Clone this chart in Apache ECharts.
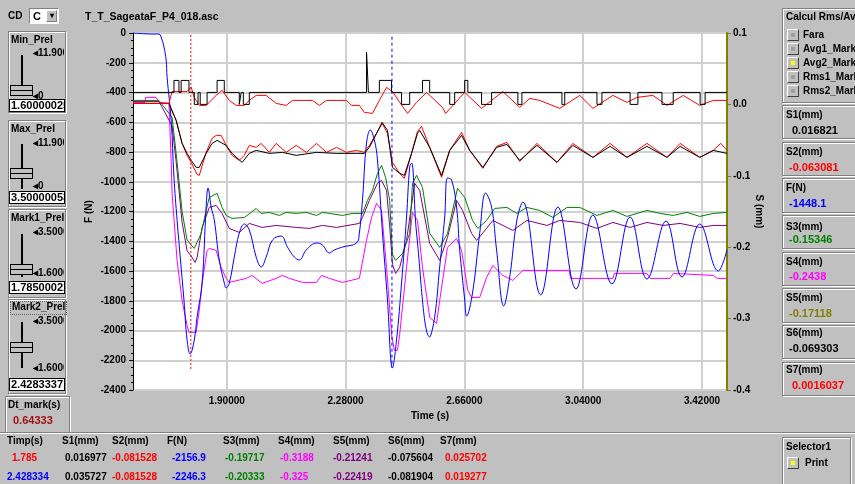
<!DOCTYPE html>
<html>
<head>
<meta charset="utf-8">
<script src="https://cdn.jsdelivr.net/npm/echarts@6/dist/echarts.min.js"></script>
<style>
body{margin:0;width:855px;height:484px;overflow:hidden;background:#c0c0c0;position:relative;
  font-family:"Liberation Sans",Arial,sans-serif;font-size:10px;font-weight:bold;color:#000;}
#chart{position:absolute;left:0;top:0;width:855px;height:484px;}
.t{position:absolute;white-space:nowrap;line-height:12px;height:12px;}
.clip{overflow:hidden;}
.grp{position:absolute;border:1px solid #808080;box-shadow:1px 1px 0 #fff, inset 1px 1px 0 #fff;}
.raised{position:absolute;border:1px solid;border-color:#fff #808080 #808080 #fff;box-shadow:1px 1px 0 #404040;}
.edit{position:absolute;background:#fff;border:1px solid #000;overflow:hidden;white-space:nowrap;
  font-size:11px;line-height:11px;height:11px;padding-left:1px;}
.trk{position:absolute;width:2px;background:#000;}
.thumb{position:absolute;width:21px;height:9px;border:1px solid #000;background:#c0c0c0;}
.thumb:after{content:"";position:absolute;left:0;right:0;top:4px;height:1px;background:#000;}
.rb{position:absolute;width:10px;height:10px;background:#c0c0c0;border:1px solid;border-color:#fff #404040 #404040 #fff;}
.rb i{position:absolute;left:3px;top:3px;width:4px;height:4px;background:#a0a0a0;}
.rb i.on{background:#ffff00;}
.val{font-size:11px;}
.tab{font-size:10px;}
</style>
</head>
<body>
<div id="chart"></div>

<div class="t" style="left:85px;top:10px;font-size:10.5px">T_T_SageataF_P4_018.asc</div>

<!-- left panel -->
<div class="t" style="left:8px;top:10px">CD</div>
<div style="position:absolute;left:29px;top:8px;width:28px;height:14px;background:#fff;border:1px solid;border-color:#808080 #fff #fff #808080;">
  <div class="t" style="left:3px;top:1px;font-size:11px">C</div>
  <div class="raised" style="left:16px;top:1px;width:9px;height:10px;background:#c0c0c0;box-shadow:none;font-size:8px;line-height:10px;text-align:center;">▾</div>
</div>

<div class="grp" style="left:8px;top:31px;width:56px;height:80px"></div>
<div class="t" style="left:11px;top:34px">Min_Prel</div>
<div class="trk" style="left:21px;top:55px;height:41px"></div>
<div class="thumb" style="left:10px;top:85px"></div>
<div class="t clip" style="left:33px;top:47px;width:31px">◂11.900</div>
<div class="t" style="left:33px;top:90px">◂0</div>
<div class="edit" style="left:9px;top:99px;width:53px">1.60000025</div>

<div class="grp" style="left:8px;top:120px;width:56px;height:85px"></div>
<div class="t" style="left:11px;top:123px">Max_Prel</div>
<div class="trk" style="left:21px;top:144px;height:45px"></div>
<div class="thumb" style="left:10px;top:168px"></div>
<div class="t clip" style="left:33px;top:137px;width:31px">◂11.900</div>
<div class="t" style="left:33px;top:180px">◂0</div>
<div class="edit" style="left:9px;top:191px;width:53px">3.50000053</div>

<div class="grp" style="left:8px;top:209px;width:56px;height:87px"></div>
<div class="t" style="left:11px;top:212px">Mark1_Prel</div>
<div class="trk" style="left:21px;top:234px;height:43px"></div>
<div class="thumb" style="left:10px;top:264px"></div>
<div class="t clip" style="left:33px;top:226px;width:31px">◂3.5000</div>
<div class="t clip" style="left:33px;top:267px;width:31px">◂1.6000</div>
<div class="edit" style="left:9px;top:281px;width:53px">1.78500021</div>

<div class="grp" style="left:8px;top:299px;width:56px;height:93px"></div>
<div class="t" style="left:10px;top:301px;border:1px dotted #606060;padding:0 1px;line-height:10px">Mark2_Prel</div>
<div class="trk" style="left:21px;top:322px;height:46px"></div>
<div class="thumb" style="left:10px;top:342px"></div>
<div class="t clip" style="left:33px;top:315px;width:31px">◂3.5000</div>
<div class="t clip" style="left:33px;top:362px;width:31px">◂1.6000</div>
<div class="edit" style="left:9px;top:378px;width:53px">2.4283337</div>

<div class="grp" style="left:5px;top:396px;width:63px;height:35px"></div>
<div class="t" style="left:8px;top:399px">Dt_mark(s)</div>
<div class="t val" style="left:13px;top:414px;color:#a01010">0.64333</div>

<!-- bottom separator and table -->
<div style="position:absolute;left:0;top:432px;width:855px;height:1px;background:#808080;border-bottom:1px solid #fff"></div>
<div class="t tab" style="left:7px;top:435px">Timp(s)</div>
<div class="t tab" style="left:62px;top:435px">S1(mm)</div>
<div class="t tab" style="left:112px;top:435px">S2(mm)</div>
<div class="t tab" style="left:167px;top:435px">F(N)</div>
<div class="t tab" style="left:223px;top:435px">S3(mm)</div>
<div class="t tab" style="left:278px;top:435px">S4(mm)</div>
<div class="t tab" style="left:333px;top:435px">S5(mm)</div>
<div class="t tab" style="left:388px;top:435px">S6(mm)</div>
<div class="t tab" style="left:440px;top:435px">S7(mm)</div>

<div class="t tab" style="left:12px;top:452px;color:#ff0000">1.785</div>
<div class="t tab" style="left:65px;top:452px">0.016977</div>
<div class="t tab" style="left:112px;top:452px;color:#ff0000">-0.081528</div>
<div class="t tab" style="left:172px;top:452px;color:#0000ff">-2156.9</div>
<div class="t tab" style="left:225px;top:452px;color:#008000">-0.19717</div>
<div class="t tab" style="left:280px;top:452px;color:#ff00ff">-0.3188</div>
<div class="t tab" style="left:333px;top:452px;color:#800080">-0.21241</div>
<div class="t tab" style="left:388px;top:452px">-0.075604</div>
<div class="t tab" style="left:445px;top:452px;color:#ff0000">0.025702</div>

<div class="t tab" style="left:7px;top:471px;color:#0000ff">2.428334</div>
<div class="t tab" style="left:65px;top:471px">0.035727</div>
<div class="t tab" style="left:112px;top:471px;color:#ff0000">-0.081528</div>
<div class="t tab" style="left:172px;top:471px;color:#0000ff">-2246.3</div>
<div class="t tab" style="left:225px;top:471px;color:#008000">-0.20333</div>
<div class="t tab" style="left:280px;top:471px;color:#ff00ff">-0.325</div>
<div class="t tab" style="left:333px;top:471px;color:#800080">-0.22419</div>
<div class="t tab" style="left:388px;top:471px">-0.081904</div>
<div class="t tab" style="left:445px;top:471px;color:#ff0000">0.019277</div>

<!-- right panel -->
<div class="grp" style="left:782px;top:8px;width:90px;height:93px"></div>
<div class="t" style="left:786px;top:11px">Calcul Rms/Avg</div>
<div class="rb" style="left:787px;top:29px"><i></i></div><div class="t" style="left:803px;top:29px">Fara</div>
<div class="rb" style="left:787px;top:43px"><i></i></div><div class="t" style="left:803px;top:43px">Avg1_Mark</div>
<div class="rb" style="left:787px;top:57px"><i class="on"></i></div><div class="t" style="left:803px;top:57px">Avg2_Mark</div>
<div class="rb" style="left:787px;top:71px"><i></i></div><div class="t" style="left:803px;top:71px">Rms1_Mark</div>
<div class="rb" style="left:787px;top:85px"><i></i></div><div class="t" style="left:803px;top:85px">Rms2_Mark</div>

<div class="grp" style="left:782px;top:105px;width:90px;height:32px"></div>
<div class="t" style="left:786px;top:109px">S1(mm)</div>
<div class="t val" style="left:792px;top:124px">0.016821</div>
<div class="grp" style="left:782px;top:142px;width:90px;height:32px"></div>
<div class="t" style="left:786px;top:146px">S2(mm)</div>
<div class="t val" style="left:789px;top:161px;color:#ff0000">-0.063081</div>
<div class="grp" style="left:782px;top:178px;width:90px;height:33px"></div>
<div class="t" style="left:786px;top:182px">F(N)</div>
<div class="t val" style="left:789px;top:197px;color:#0000ff">-1448.1</div>
<div class="grp" style="left:782px;top:215px;width:90px;height:32px"></div>
<div class="t" style="left:786px;top:221px">S3(mm)</div>
<div class="t val" style="left:789px;top:233px;color:#008000">-0.15346</div>
<div class="grp" style="left:782px;top:252px;width:90px;height:32px"></div>
<div class="t" style="left:786px;top:256px">S4(mm)</div>
<div class="t val" style="left:789px;top:270px;color:#ff00ff">-0.2438</div>
<div class="grp" style="left:782px;top:288px;width:90px;height:33px"></div>
<div class="t" style="left:786px;top:292px">S5(mm)</div>
<div class="t val" style="left:789px;top:307px;color:#808000">-0.17118</div>
<div class="grp" style="left:782px;top:325px;width:90px;height:32px"></div>
<div class="t" style="left:786px;top:327px">S6(mm)</div>
<div class="t val" style="left:789px;top:342px">-0.069303</div>
<div class="grp" style="left:782px;top:362px;width:90px;height:32px"></div>
<div class="t" style="left:786px;top:364px">S7(mm)</div>
<div class="t val" style="left:792px;top:379px;color:#ff0000">0.0016037</div>

<div class="grp" style="left:782px;top:437px;width:67px;height:52px"></div>
<div class="t" style="left:786px;top:441px">Selector1</div>
<div class="rb" style="left:787px;top:457px"><i class="on"></i></div><div class="t" style="left:805px;top:457px">Print</div>

<script>
// axis ticks and cursor times
const timeTicks = [1.9, 2.28, 2.66, 3.04, 3.42];
const markTimes = [1.785, 2.428334];
// vertical extent of the two cursors, in F(N)
const mark1Span = [-13, -2265];
const mark2Span = [-25, -2250];

// F(N) - left axis
const forceN = [[1.600,0],[1.667,-7],[1.683,-7],[1.693,-47],[1.699,-94],[1.706,-181],[1.709,-296],[1.722,-585],[1.731,-968],[1.741,-1257],[1.763,-1795],[1.773,-2064],[1.783,-2158],[1.796,-2064],[1.805,-1909],[1.821,-1681],[1.834,-1170],[1.840,-1042],[1.850,-1170],[1.860,-1257],[1.876,-1526],[1.892,-1681],[1.898,-1714],[1.908,-1681],[1.924,-1506],[1.940,-1345],[1.956,-1284],[1.972,-1324],[1.994,-1506],[2.010,-1573],[2.026,-1506],[2.046,-1392],[2.074,-1365],[2.094,-1439],[2.116,-1506],[2.132,-1526],[2.154,-1459],[2.187,-1412],[2.206,-1425],[2.228,-1479],[2.244,-1459],[2.270,-1439],[2.315,-1412],[2.324,-1345],[2.334,-1123],[2.347,-740],[2.359,-652],[2.372,-719],[2.382,-854],[2.398,-1345],[2.414,-1795],[2.430,-2252],[2.443,-2064],[2.459,-1681],[2.475,-1237],[2.485,-901],[2.491,-874],[2.507,-1345],[2.549,-2044],[2.565,-1909],[2.581,-1573],[2.597,-1237],[2.606,-975],[2.619,-988],[2.635,-1170],[2.645,-1459],[2.661,-1795],[2.667,-1903],[2.686,-1748],[2.709,-1345],[2.728,-1076],[2.747,-1170],[2.763,-1459],[2.786,-1835],[2.805,-1640],[2.828,-1257],[2.847,-1136],[2.904,-1761],[2.959,-1170],[3.017,-1721],[3.071,-1224],[3.132,-1687],[3.190,-1237],[3.244,-1654],[3.305,-1264],[3.356,-1640],[3.413,-1284],[3.472,-1600],[3.500,-1459]];

// S1 (mm) - black, quantised steps
const s1 = [[1.600,0.0168],[1.731,0.0336],[1.747,0.0168],[1.754,0.0336],[1.779,0.0168],[1.796,0],[1.808,0.0168],[1.815,0],[1.837,0.0168],[1.869,0.0336],[1.892,0.0168],[1.940,0],[1.946,0.0168],[1.953,0],[1.972,0.0168],[2.347,0.073],[2.353,0.0168],[2.388,0.0336],[2.427,0.0168],[2.459,0],[2.485,0.0168],[2.526,0.0336],[2.549,0.0168],[2.613,0],[2.629,0.0168],[2.661,0.0336],[2.671,0.0168],[2.715,0],[2.747,0.0168],[2.831,0],[2.844,0.0168],[2.972,0],[2.981,0.0168],[3.084,0],[3.100,0.0168],[3.190,0],[3.215,0.0168],[3.292,0],[3.328,0.0168],[3.414,0],[3.430,0.0168],[3.500,0.0168]];

// S7 (mm) - red, upper
const s7 = [[1.600,0.0014],[1.715,0.0014],[1.725,0.018],[1.773,0.018],[1.786,0.024],[1.796,0.0098],[1.812,-0.0014],[1.834,-0.0014],[1.866,0.0126],[1.885,0.0196],[1.908,0.0056],[1.930,-0.0014],[1.956,-0.0014],[1.972,0.0056],[1.994,0.0126],[2.026,0.0126],[2.058,0.0014],[2.090,-0.0014],[2.110,0.0056],[2.174,0.0056],[2.196,-0.0014],[2.219,0.0056],[2.283,0.0056],[2.299,-0.0014],[2.324,-0.0014],[2.340,-0.0112],[2.366,-0.0126],[2.388,0.0056],[2.411,0.0238],[2.430,0.018],[2.453,0.0028],[2.478,-0.0126],[2.507,0.0028],[2.539,0.0168],[2.590,-0.0042],[2.600,-0.0126],[2.661,0.0168],[2.715,-0.0056],[2.783,0.018],[2.837,-0.0042],[2.869,0.0084],[2.901,0.0056],[2.965,-0.0056],[3.029,0.0126],[3.071,-0.0056],[3.135,0.0126],[3.180,0.0028],[3.212,0.0098],[3.263,0.0126],[3.308,-0.0014],[3.360,0.0126],[3.413,-0.0014],[3.456,0.0056],[3.500,0.0056]];

// S6 (mm) - black, lower
const s6 = [[1.600,0.0014],[1.715,0.0014],[1.738,-0.0224],[1.757,-0.0546],[1.773,-0.0686],[1.786,-0.0784],[1.802,-0.0882],[1.812,-0.0882],[1.834,-0.0686],[1.853,-0.0546],[1.869,-0.0504],[1.898,-0.0574],[1.917,-0.0686],[1.949,-0.0812],[1.972,-0.0686],[1.994,-0.0644],[2.036,-0.0686],[2.078,-0.0672],[2.122,-0.0714],[2.187,-0.0672],[2.251,-0.0686],[2.315,-0.0686],[2.340,-0.0686],[2.356,-0.0602],[2.379,-0.0406],[2.397,-0.0252],[2.414,-0.0364],[2.430,-0.0882],[2.453,-0.0966],[2.468,-0.0994],[2.491,-0.0686],[2.510,-0.0406],[2.517,-0.0364],[2.549,-0.0602],[2.587,-0.0994],[2.613,-0.0644],[2.651,-0.0434],[2.677,-0.0644],[2.719,-0.0882],[2.763,-0.0602],[2.796,-0.0560],[2.837,-0.0784],[2.892,-0.0574],[2.956,-0.0812],[3.007,-0.0574],[3.071,-0.0742],[3.126,-0.0588],[3.180,-0.0742],[3.244,-0.0588],[3.308,-0.0742],[3.350,-0.0588],[3.413,-0.0742],[3.456,-0.0644],[3.500,-0.0686]];

// S2 (mm) - red, lower
const s2 = [[1.600,0.0014],[1.715,0.0014],[1.738,-0.0224],[1.757,-0.0546],[1.773,-0.0714],[1.786,-0.0812],[1.805,-0.0980],[1.812,-0.0994],[1.834,-0.0672],[1.853,-0.0476],[1.866,-0.0434],[1.882,-0.0434],[1.898,-0.0574],[1.917,-0.0714],[1.940,-0.0784],[1.956,-0.0714],[1.972,-0.0574],[1.994,-0.0602],[2.010,-0.0546],[2.036,-0.0672],[2.058,-0.0546],[2.090,-0.0672],[2.122,-0.0574],[2.155,-0.0672],[2.187,-0.0546],[2.219,-0.0672],[2.251,-0.0602],[2.283,-0.0672],[2.315,-0.0644],[2.340,-0.0672],[2.356,-0.0574],[2.379,-0.0406],[2.397,-0.0266],[2.414,-0.0406],[2.430,-0.0812],[2.453,-0.0966],[2.468,-0.1036],[2.491,-0.0686],[2.510,-0.0378],[2.523,-0.0308],[2.549,-0.0602],[2.587,-0.1022],[2.613,-0.0644],[2.651,-0.0392],[2.677,-0.0644],[2.719,-0.0896],[2.763,-0.0588],[2.796,-0.0532],[2.837,-0.0798],[2.892,-0.0546],[2.956,-0.0812],[3.007,-0.0546],[3.071,-0.0742],[3.126,-0.0546],[3.180,-0.0742],[3.244,-0.0546],[3.308,-0.0742],[3.350,-0.0546],[3.413,-0.0742],[3.456,-0.0644],[3.480,-0.0546],[3.500,-0.0644]];

// S3 (mm) - green
const s3 = [[1.600,0.0056],[1.683,0.0056],[1.725,-0.0182],[1.738,-0.0686],[1.747,-0.1064],[1.757,-0.150],[1.773,-0.190],[1.786,-0.197],[1.796,-0.2017],[1.802,-0.2003],[1.818,-0.1807],[1.834,-0.1485],[1.844,-0.1303],[1.869,-0.1246],[1.885,-0.1443],[1.898,-0.1555],[1.917,-0.1597],[1.956,-0.1583],[1.978,-0.1513],[1.994,-0.1457],[2.010,-0.1527],[2.036,-0.1513],[2.068,-0.1555],[2.090,-0.1513],[2.122,-0.1527],[2.154,-0.1513],[2.187,-0.1555],[2.206,-0.1513],[2.228,-0.1527],[2.270,-0.1555],[2.302,-0.1527],[2.334,-0.1527],[2.350,-0.1345],[2.366,-0.1204],[2.382,-0.0966],[2.395,-0.0854],[2.408,-0.1022],[2.421,-0.1345],[2.430,-0.2100],[2.440,-0.2185],[2.462,-0.2087],[2.485,-0.1807],[2.494,-0.1106],[2.507,-0.0994],[2.526,-0.1162],[2.549,-0.1807],[2.581,-0.2003],[2.606,-0.1807],[2.638,-0.1176],[2.661,-0.1303],[2.686,-0.1625],[2.703,-0.1737],[2.731,-0.1625],[2.757,-0.1457],[2.796,-0.1443],[2.828,-0.1527],[2.860,-0.1443],[2.901,-0.1485],[2.943,-0.1583],[2.988,-0.1443],[3.029,-0.1443],[3.084,-0.1555],[3.135,-0.1485],[3.180,-0.1569],[3.244,-0.1485],[3.286,-0.1527],[3.328,-0.1555],[3.372,-0.1513],[3.413,-0.1569],[3.456,-0.1527],[3.500,-0.1513]];

// S5 (mm) - purple
const s5 = [[1.600,0.0042],[1.683,0.0042],[1.725,-0.0300],[1.738,-0.0800],[1.747,-0.1200],[1.757,-0.1650],[1.773,-0.2050],[1.786,-0.2124],[1.799,-0.2213],[1.805,-0.2143],[1.821,-0.1723],[1.844,-0.1443],[1.866,-0.1415],[1.885,-0.1527],[1.908,-0.1737],[1.940,-0.1793],[1.972,-0.1667],[2.013,-0.1723],[2.058,-0.1695],[2.122,-0.1723],[2.164,-0.1737],[2.206,-0.1695],[2.251,-0.1723],[2.324,-0.1667],[2.334,-0.1583],[2.356,-0.1345],[2.382,-0.1106],[2.395,-0.1064],[2.411,-0.1204],[2.421,-0.1700],[2.430,-0.2242],[2.440,-0.2367],[2.453,-0.2283],[2.475,-0.1905],[2.501,-0.1106],[2.517,-0.1204],[2.549,-0.1947],[2.581,-0.2185],[2.606,-0.1863],[2.635,-0.1345],[2.654,-0.1485],[2.683,-0.1807],[2.699,-0.1905],[2.731,-0.1737],[2.751,-0.1625],[2.815,-0.1765],[2.860,-0.1625],[2.924,-0.1695],[2.965,-0.1625],[3.029,-0.1653],[3.084,-0.1737],[3.135,-0.1653],[3.190,-0.1723],[3.244,-0.1653],[3.296,-0.1695],[3.350,-0.1667],[3.413,-0.1723],[3.456,-0.1695],[3.500,-0.1695]];

// S4 (mm) - magenta
const s4 = [[1.600,0.0028],[1.638,0.0028],[1.640,0.0098],[1.674,0.0098],[1.683,0.0028],[1.715,0.0014],[1.722,-0.0784],[1.725,-0.1246],[1.741,-0.2185],[1.757,-0.2745],[1.773,-0.3095],[1.779,-0.3193],[1.802,-0.3193],[1.812,-0.2885],[1.821,-0.2507],[1.837,-0.2045],[1.844,-0.2017],[1.866,-0.2045],[1.882,-0.2283],[1.898,-0.2437],[1.908,-0.2493],[1.962,-0.2437],[1.981,-0.2395],[2.013,-0.2507],[2.058,-0.2437],[2.078,-0.2395],[2.100,-0.2437],[2.142,-0.2493],[2.187,-0.2493],[2.203,-0.2395],[2.228,-0.2437],[2.270,-0.2493],[2.324,-0.2437],[2.347,-0.1905],[2.363,-0.1583],[2.379,-0.1387],[2.395,-0.1485],[2.411,-0.2283],[2.428,-0.3250],[2.436,-0.3445],[2.446,-0.3445],[2.453,-0.3221],[2.475,-0.2283],[2.494,-0.1513],[2.510,-0.1625],[2.526,-0.2283],[2.549,-0.2983],[2.571,-0.3067],[2.581,-0.2745],[2.606,-0.2003],[2.635,-0.1877],[2.651,-0.2045],[2.671,-0.2605],[2.683,-0.2703],[2.709,-0.2703],[2.731,-0.2423],[2.751,-0.2255],[2.783,-0.2395],[2.815,-0.2465],[2.847,-0.2325],[2.924,-0.2325],[2.995,-0.2325],[3.000,-0.2437],[3.084,-0.2437],[3.135,-0.2437],[3.140,-0.2367],[3.199,-0.2367],[3.244,-0.2367],[3.254,-0.2437],[3.318,-0.2437],[3.328,-0.2367],[3.456,-0.2395],[3.469,-0.2437],[3.500,-0.2437]];

const chart = echarts.init(document.getElementById("chart"));
const axisFont = { color: "#000", fontWeight: "bold", fontSize: 10, fontFamily: "Liberation Sans, Arial, sans-serif" };

function line(name, data, color, yIdx, extra) {
    return Object.assign({
        name, type: "line", data, yAxisIndex: yIdx,
        symbol: "none", showSymbol: false, animation: false,
        lineStyle: { color, width: 1 }, itemStyle: { color }
    }, extra || {});
}

// cursor as a two-point vertical line on the F axis
function cursor(name, t, span, color, dash) {
    return {
        name, type: "line", yAxisIndex: 0, symbol: "none", showSymbol: false, animation: false, silent: true,
        data: [[t, span[0]], [t, span[1]]],
        lineStyle: { color, width: 1, type: dash }, itemStyle: { color }, z: 5
    };
}

chart.setOption({
    backgroundColor: "transparent",
    animation: false,
    grid: { left: 133, right: 128, top: 33, bottom: 94, show: true, backgroundColor: "#fff", borderWidth: 0 },
    xAxis: {
        type: "value", min: 1.6, max: 3.5,
        name: "Time (s)", nameLocation: "middle", nameGap: 18, nameTextStyle: axisFont,
        axisLine: { show: false },
        axisTick: { show: false, customValues: timeTicks },
        axisLabel: Object.assign({}, axisFont, { customValues: timeTicks, margin: 6, formatter: v => v.toFixed(5) }),
        splitLine: { show: true, lineStyle: { color: "#d0d0d0", width: 2 } }
    },
    yAxis: [
        {
            type: "value", min: -2400, max: 0, interval: 200, position: "left",
            name: "F (N)", nameLocation: "middle", nameGap: 39, nameRotate: 90, nameMoveOverlap: false,
            nameTextStyle: axisFont,
            axisLine: { show: true, lineStyle: { color: "#000" } },
            axisTick: { show: true, length: 4, lineStyle: { color: "#000" } },
            minorTick: { show: true, splitNumber: 4, length: 2, lineStyle: { color: "#000" } },
            axisLabel: Object.assign({}, axisFont, { margin: 7, formatter: v => String(v) }),
            splitLine: { show: true, lineStyle: { color: "#d0d0d0", width: 2 } }
        },
        {
            type: "value", min: -0.4, max: 0.1, interval: 0.1, position: "right",
            name: "S (mm)", nameLocation: "middle", nameGap: 27, nameRotate: -90, nameMoveOverlap: false,
            nameTextStyle: axisFont,
            axisLine: { show: true, lineStyle: { color: "#808000", width: 2 } },
            axisTick: { show: true, length: 4, lineStyle: { color: "#808000" } },
            axisLabel: Object.assign({}, axisFont, { margin: 6, formatter: v => v.toFixed(1) }),
            splitLine: { show: false }
        }
    ],
    series: [
        line("S4", s4, "#ff00ff", 1),
        line("S5", s5, "#800080", 1),
        line("S3", s3, "#008000", 1),
        line("F", forceN, "#0000ff", 0, { smooth: 0.4 }),
        line("S2", s2, "#ff0000", 1),
        line("S6", s6, "#000000", 1),
        line("S7", s7, "#ff0000", 1),
        line("S1", s1, "#000000", 1, { step: "end" }),
        cursor("Mark1", markTimes[0], mark1Span, "#ff0000", [2, 2]),
        cursor("Mark2", markTimes[1], mark2Span, "#0000ff", [3, 3])
    ]
});

window.addEventListener("resize", () => chart.resize());
</script>
</body>
</html>
